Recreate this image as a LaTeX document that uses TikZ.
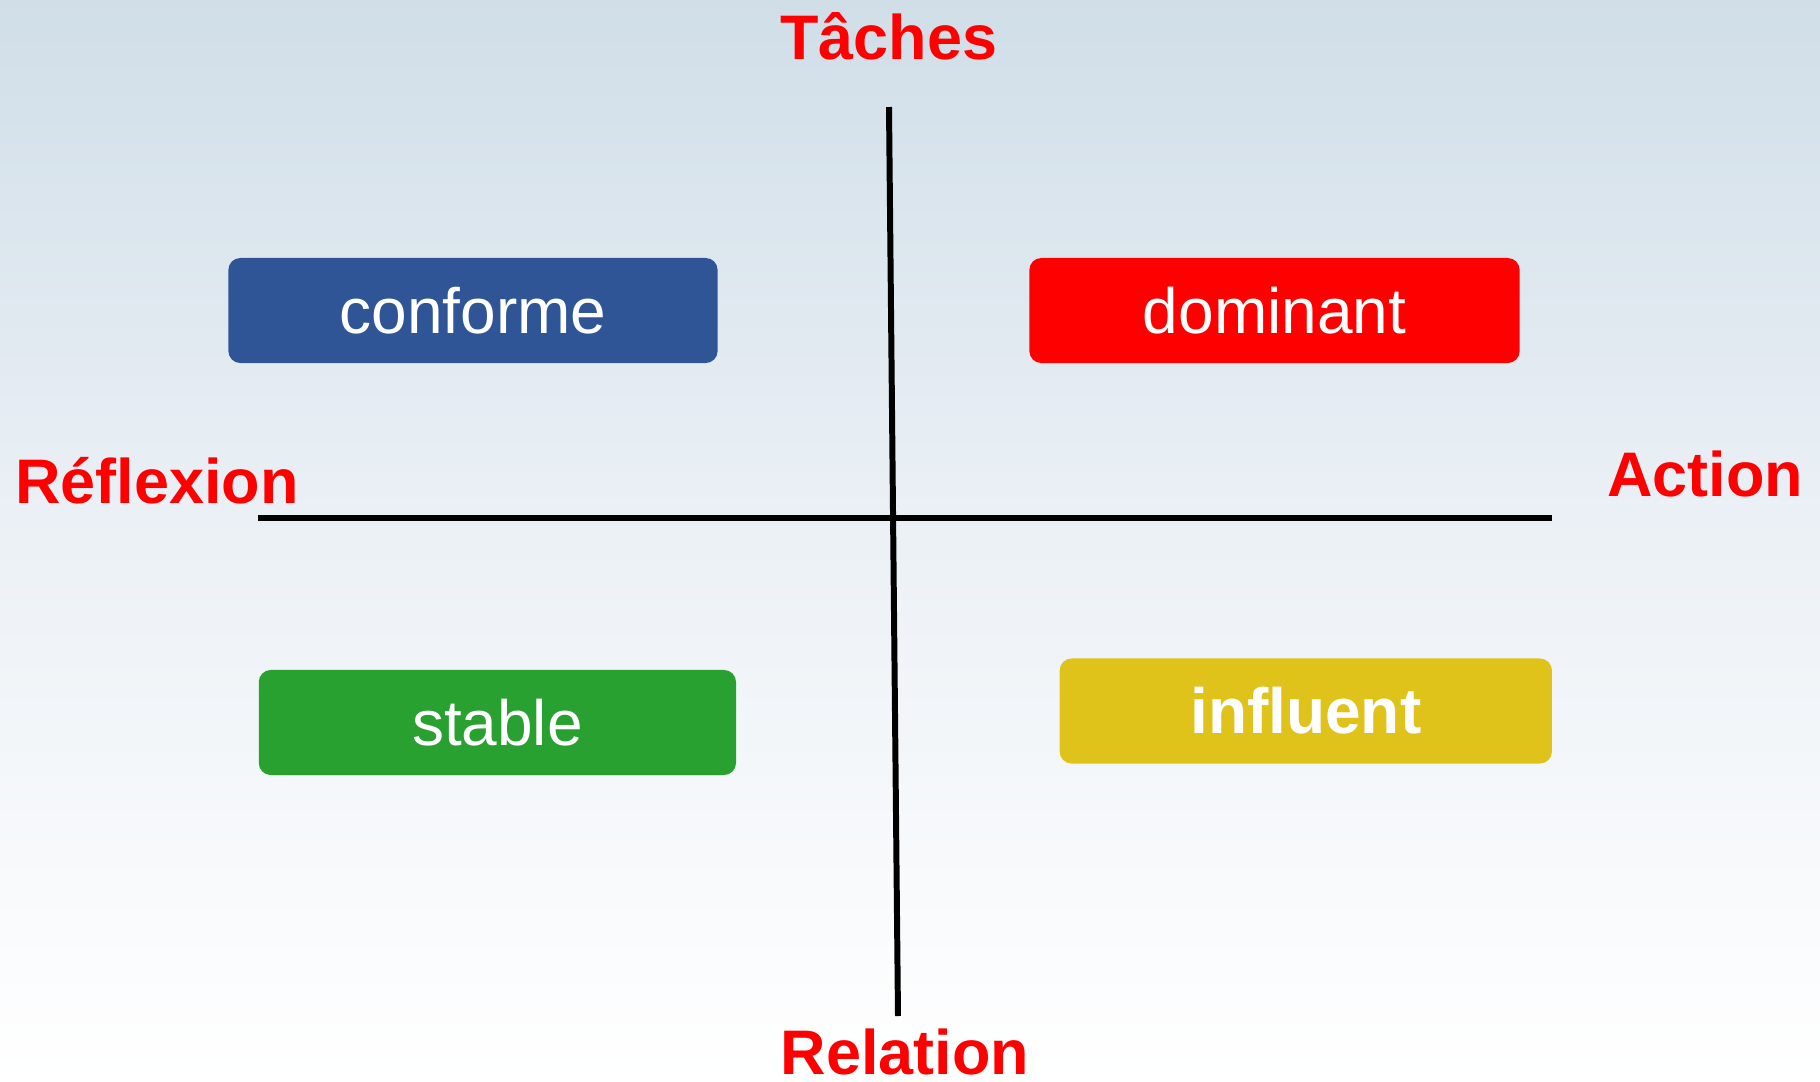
\documentclass[tikz,border=0pt]{standalone}
\usepackage{fontspec}
\setmainfont{Liberation Sans}
\usetikzlibrary{positioning}

\definecolor{bgtop}{RGB}{208,222,232}
\definecolor{bgmid}{RGB}{236,241,246}
\definecolor{conf}{RGB}{47,85,151}
\definecolor{domi}{RGB}{255,0,0}
\definecolor{stab}{RGB}{40,161,48}
\definecolor{infl}{RGB}{223,194,26}

\tikzset{
  profil/.style = {rounded corners=12pt*0.2845, minimum width=4.89cm, minimum height=1.05cm,
                   text=white, font=\fontsize{18.2}{20}\selectfont, inner sep=0pt},
  pole/.style = {text=red, font=\bfseries\fontsize{17.9}{20}\selectfont, anchor=base, inner sep=0pt},
  axe/.style = {line width=1.7pt}
}

\begin{document}
\begin{tikzpicture}[x=0.01cm, y=-0.01cm]
\useasboundingbox (0,0) rectangle (1820,1081);
\shade[top color=bgtop, bottom color=white, middle color=bgmid] (0,0) rectangle (1820,1081);

\coordinate (n) at (889,107);
\coordinate (s) at (898,1016);
\coordinate (w) at (258,518);
\coordinate (e) at (1552,518);

\node [profil, fill=conf] (a) at (473,310.5) {conforme};
\node [profil, fill=domi, minimum width=4.90cm] (b) at (1274.5,310.5) {dominant};
\node [profil, fill=stab, minimum width=4.77cm] (c) at (497.4,722.5) {stable};
\node [profil, fill=infl, minimum width=4.92cm, font=\bfseries\fontsize{18.2}{20}\selectfont] (d) at (1305.8,711) {influent};

\node [pole] (pt) at (889,59) {Tâches};
\node [pole] (pr) at (157,503) {Réflexion};
\node [pole] (pa) at (1705,496) {Action};
\node [pole] (pb) at (905,1074) {Relation};

\draw [axe] (n) -- (s);
\draw [axe] (w) -- (e);
\end{tikzpicture}
\end{document}
